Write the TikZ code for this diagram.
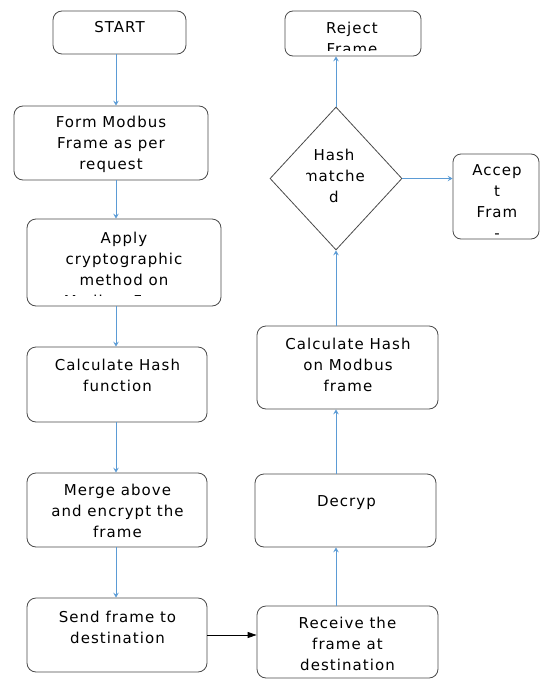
\documentclass[tikz,border=0pt]{standalone}
\usepackage{fontspec}
\setmainfont{DejaVu Sans}[LetterSpace=7]
\usetikzlibrary{positioning, shapes.geometric, arrows.meta}

\definecolor{flowblue}{HTML}{5B9BD5}
\definecolor{edgegray}{HTML}{4A4A4A}

\tikzset{
    stepbox/.style={draw=edgegray, line width=0.8pt, rounded corners=9pt, inner sep=0pt},
    checkbox/.style={diamond, draw=edgegray, line width=0.8pt, inner sep=0pt},
    steptext/.style={align=center, inner sep=0pt, font=\fontsize{15}{21}\selectfont},
    flow/.style={draw=flowblue, line width=0.8pt, -{Stealth[length=5pt, width=5.5pt, inset=2pt]}},
    send/.style={draw=black, line width=0.8pt, -{Triangle[length=9pt, width=6pt]}}
}

\begin{document}
\begin{tikzpicture}[x=1pt, y=-1pt]
    \useasboundingbox (0,0) rectangle (540,680);
    \coordinate (colL) at (116,0);
    \coordinate (colR) at (336,0);

    % sender side
    \node[stepbox, minimum width=133pt, minimum height=43pt] (start) at (119.5,32.5) {};
    \node[steptext] (startT) at (119.5,27) {START};
    \node[stepbox, minimum width=194pt, minimum height=74pt] (form) at (111,143) {};
    \node[steptext] (formT) at (111,144) {Form Modbus\\Frame as per\\request};
    \node[stepbox, minimum width=194pt, minimum height=87pt] (apply) at (124,262.5) {};
    \begin{scope}
        \clip (27,219) rectangle (221,295.5);
        \node[steptext] (applyT) at (124,269.5) {Apply\\cryptographic\\method on\\Modbus Frame};
    \end{scope}
    \node[stepbox, minimum width=180pt, minimum height=75pt] (hashfn) at (117,384.5) {};
    \node[steptext] (hashfnT) at (117.5,375.5) {Calculate Hash\\function};
    \node[stepbox, minimum width=180pt, minimum height=74pt] (merge) at (117,510) {};
    \node[steptext] (mergeT) at (117.5,511) {Merge above\\and encrypt the\\frame};
    \node[stepbox, minimum width=180pt, minimum height=74pt] (sendbox) at (117,635) {};
    \node[steptext] (sendT) at (117.5,627) {Send frame to\\destination};

    % receiver side
    \node[stepbox, minimum width=181pt, minimum height=72pt] (receive) at (347.5,642) {};
    \node[steptext] (receiveT) at (347.5,644) {Receive the\\frame at\\destination};
    \node[stepbox, minimum width=181pt, minimum height=73pt] (decrypt) at (345.5,510.5) {};
    \node[steptext] (decryptT) at (346.5,503) {Decryp};
    \node[stepbox, minimum width=181pt, minimum height=83pt] (hashmb) at (347.5,367.5) {};
    \node[steptext] (hashmbT) at (348,365) {Calculate Hash\\on Modbus\\frame};
    \node[checkbox, minimum width=132pt, minimum height=143pt] (check) at (336,178.5) {};
    \begin{scope}
        \clip (306,140) rectangle (372,216);
        \node[steptext] (checkT) at (334,176) {Hash\\matche\\d};
    \end{scope}
    \node[stepbox, rounded corners=8pt, minimum width=136pt, minimum height=45pt] (reject) at (353,33.5) {};
    \begin{scope}
        \clip (285,11) rectangle (421,50);
        \node[steptext] (rejectT) at (352,38) {Reject\\Frame};
    \end{scope}
    \node[stepbox, rounded corners=8pt, minimum width=86pt, minimum height=85pt] (accept) at (496,196.5) {};
    \node[steptext] (acceptT) at (497,201.5) {Accep\\t\\Fram\\-};

    % connectors
    \draw[flow] (start.south -| colL) -- (form.north -| colL);
    \draw[flow] (form.south -| colL) -- (apply.north -| colL);
    \draw[flow] (apply.south -| colL) -- (hashfn.north -| colL);
    \draw[flow] (hashfn.south -| colL) -- (merge.north -| colL);
    \draw[flow] (merge.south -| colL) -- (sendbox.north -| colL);
    \draw[send] (sendbox.east) -- (sendbox.east -| receive.west);
    \draw[flow] (receive.north -| colR) -- (decrypt.south -| colR);
    \draw[flow] (decrypt.north -| colR) -- (hashmb.south -| colR);
    \draw[flow] (hashmb.north -| colR) -- (check.south);
    \draw[flow] (check.north) -- (reject.south -| check.north);
    \draw[flow] (check.east) -- (check.east -| accept.west);
\end{tikzpicture}
\end{document}
